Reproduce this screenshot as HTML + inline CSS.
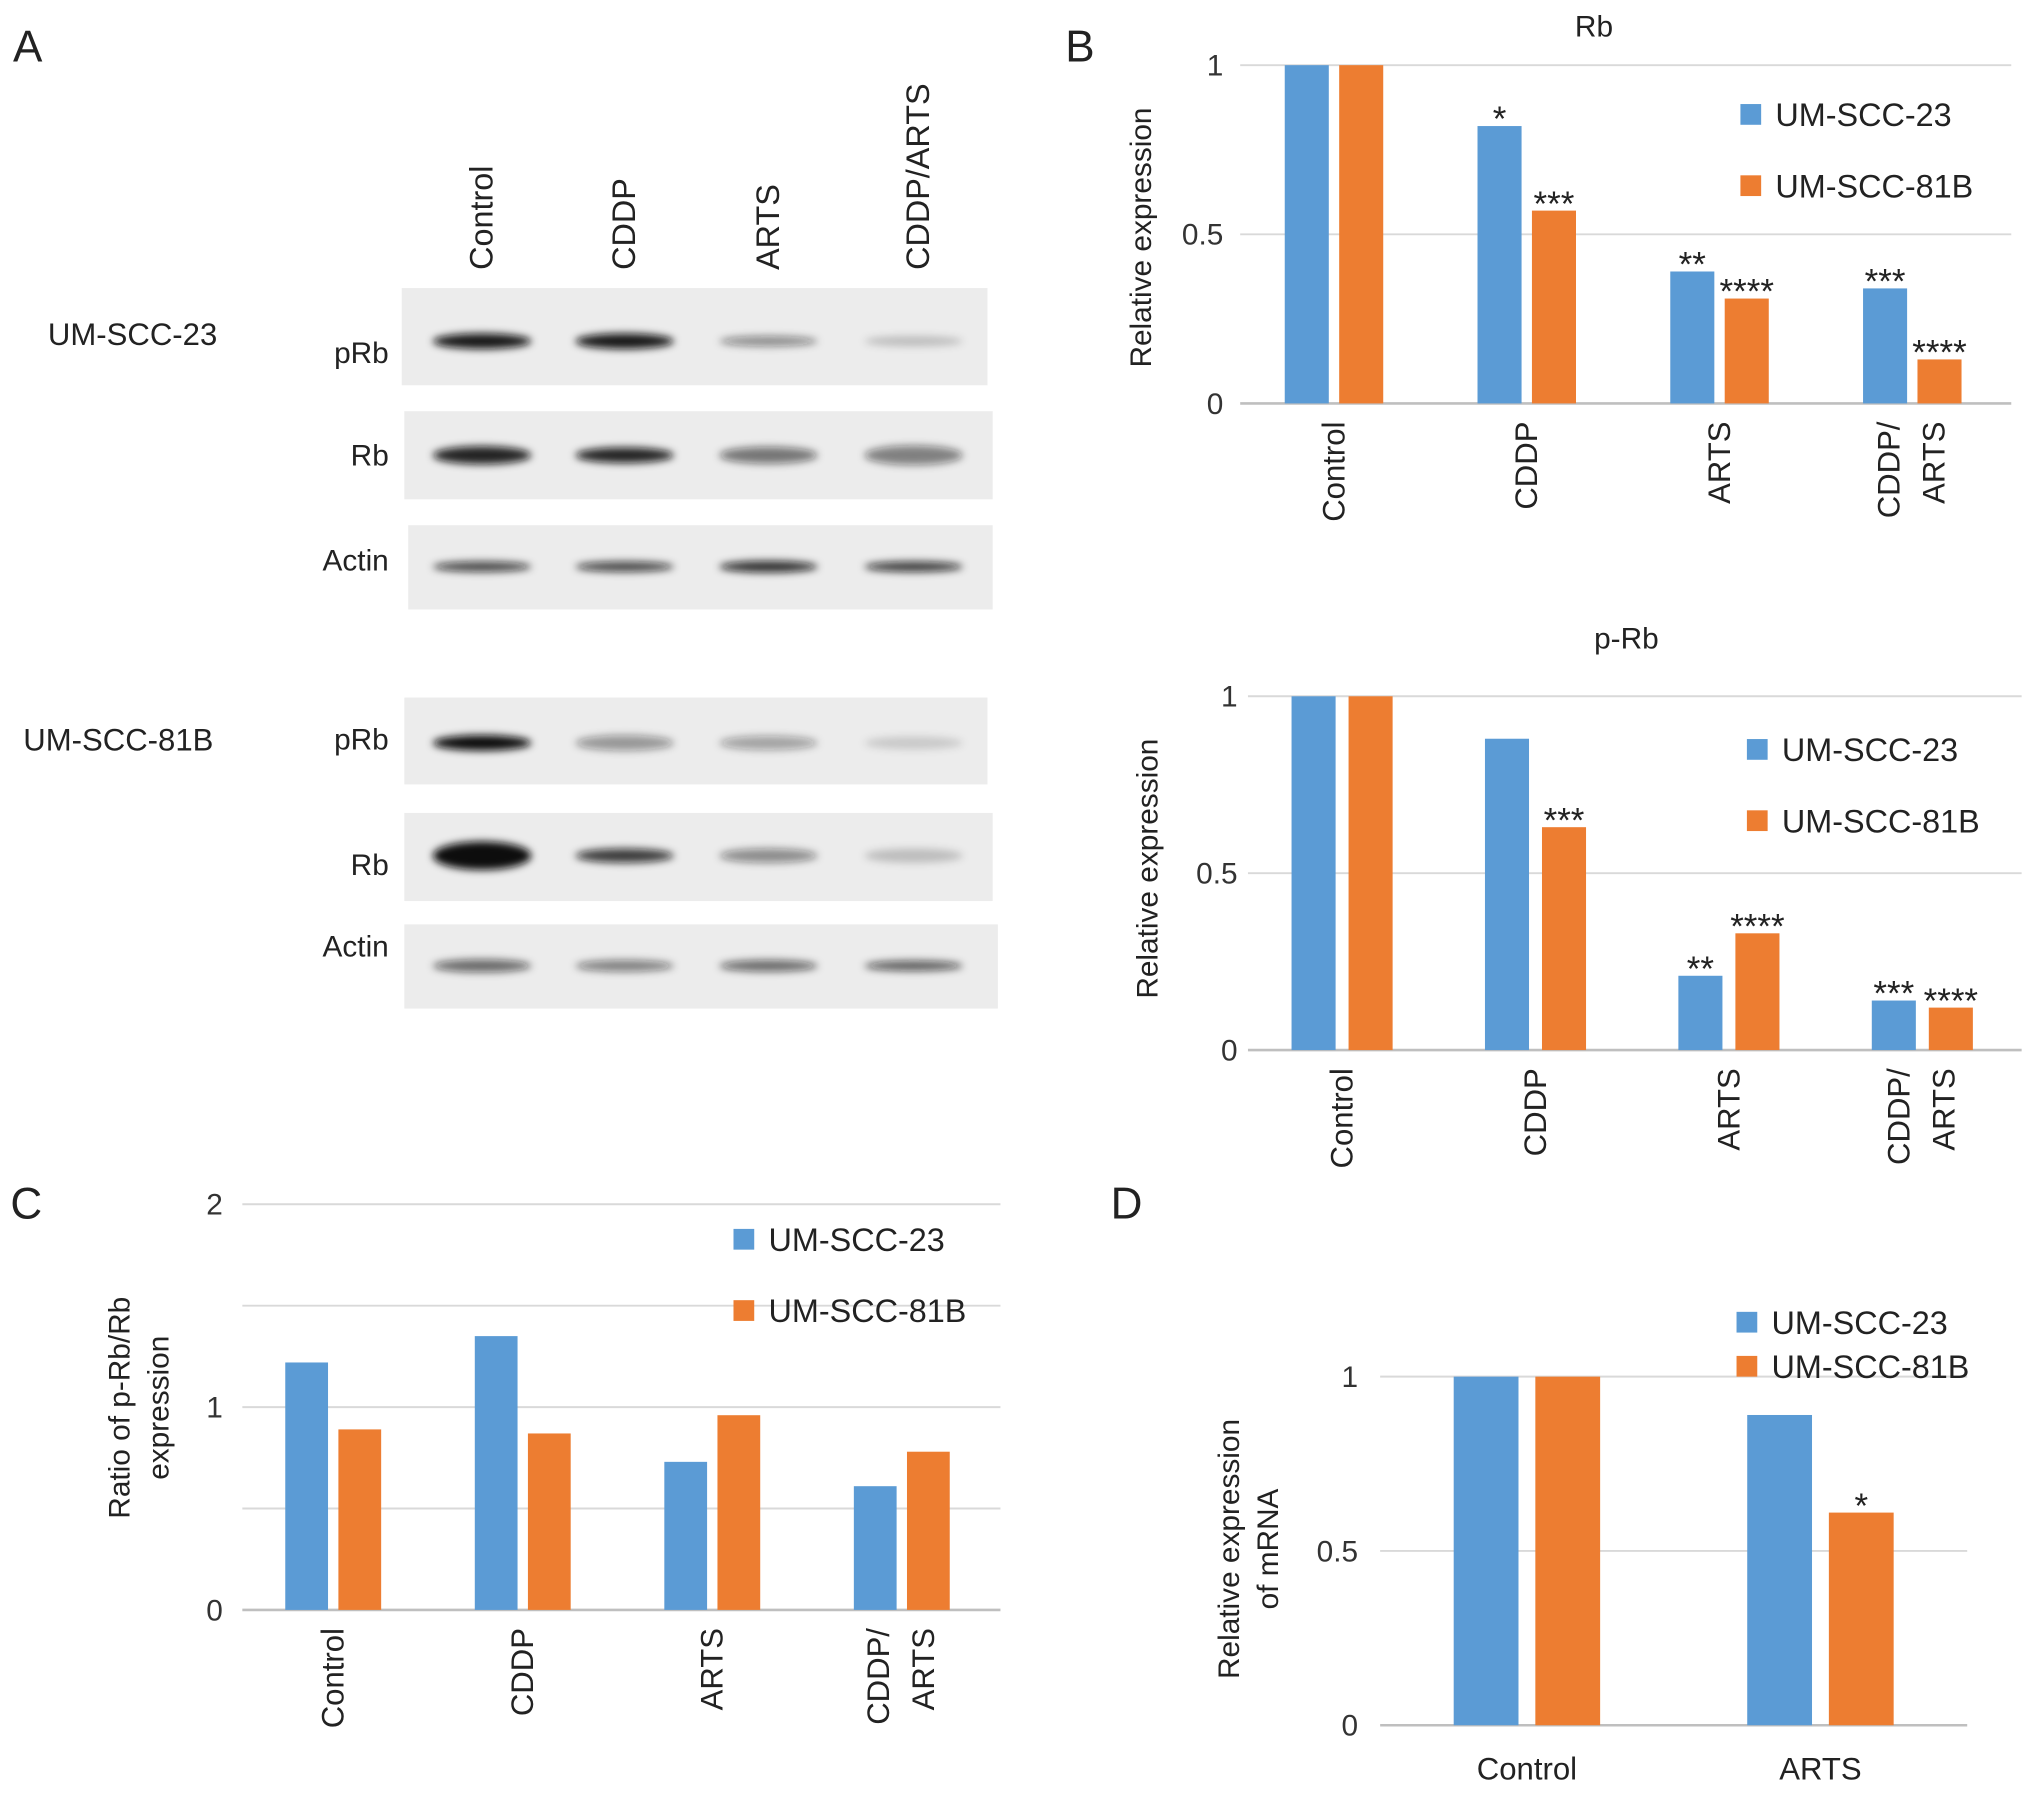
<!DOCTYPE html>
<html><head><meta charset="utf-8"><style>
html,body{margin:0;padding:0;background:#fff}
svg{display:block;font-family:"Liberation Sans",Arial,sans-serif}
</style></head><body>
<svg id="fig" width="2032" height="1793" viewBox="0 0 1568 1383" xmlns="http://www.w3.org/2000/svg">
<defs><filter id="blur" x="-50%" y="-100%" width="200%" height="300%"><feGaussianBlur stdDeviation="3"/></filter></defs>
<g font-size="34" fill="#222">
<text x="10" y="47">A</text>
<text x="822" y="47">B</text>
<text x="8" y="940">C</text>
<text x="857" y="940">D</text>
</g>
<g id="blots"></g>
<g id="rb"></g>
<g id="prb"></g>
<g id="ratio"></g>
<g id="mrna"></g>
</svg>
<script>
const NS="http://www.w3.org/2000/svg";
const BLUE="#5b9bd5",ORANGE="#ed7d31";
// Rb chart
const rbCats=["Control","CDDP","ARTS","CDDP/|ARTS"];
const rbBlue=[1,0.82,0.39,0.34];
const rbOrange=[1,0.57,0.31,0.13];
const rbStarsBlue=["","*","**","***"];
const rbStarsOrange=["","***","****","****"];
const rbTicks=[0,0.5,1];
// p-Rb chart
const prbCats=["Control","CDDP","ARTS","CDDP/|ARTS"];
const prbBlue=[1,0.88,0.21,0.14];
const prbOrange=[1,0.63,0.33,0.12];
const prbStarsBlue=["","","**","***"];
const prbStarsOrange=["","***","****","****"];
const prbTicks=[0,0.5,1];
// ratio chart
const ratioCats=["Control","CDDP","ARTS","CDDP/|ARTS"];
const ratioBlue=[1.22,1.35,0.73,0.61];
const ratioOrange=[0.89,0.87,0.96,0.78];
const ratioTicks=[0,1,2];
const ratioGrid=[0,0.5,1,1.5,2];
// mRNA chart
const mrnaCats=["Control","ARTS"];
const mrnaBlue=[1,0.89];
const mrnaOrange=[1,0.61];
const mrnaStarsBlue=["",""];
const mrnaStarsOrange=["","*"];
const mrnaTicks=[0,0.5,1];
const seriesNames=["UM-SCC-23","UM-SCC-81B"];

function mk(tag,attrs,parent,txt){const e=document.createElementNS(NS,tag);for(const k in attrs)e.setAttribute(k,attrs[k]);if(txt!==undefined)e.textContent=txt;parent.appendChild(e);return e;}

function chart(g,o){
  const y=v=>o.y0-(v-o.vmin)/(o.vmax-o.vmin)*(o.y0-o.y1);
  (o.grid||o.ticks).forEach(t=>{const l=mk("line",{x1:o.x0,x2:o.x1,y1:y(t),y2:y(t),stroke:t===0?"#bfbfbf":"#d9d9d9","stroke-width":t===0?2:1.5},g);
    
    });
  o.ticks.forEach(t=>{const e=mk("text",{x:o.tx,y:y(t)+8,"text-anchor":"end","font-size":23,fill:"#333"},g,String(t));
    
    });
  const step=(o.x1-o.x0)/o.cats.length;
  o.cats.forEach((c,i)=>{
    const cx=o.x0+step*(i+0.5)+o.shift;
    [[o.blue,BLUE,-1,o.sb],[o.orange,ORANGE,1,o.so]].forEach(([arr,col,side,stars])=>{
      const bx=side<0?cx-o.gap/2-o.bw:cx+o.gap/2;
      const r=mk("rect",{x:bx,y:y(arr[i]),width:o.bw,height:o.y0-y(arr[i]),fill:col},g);
      
      
      if(stars&&stars[i]){const s=mk("text",{x:bx+o.bw/2,y:y(arr[i])+4,"text-anchor":"middle","font-size":27,fill:"#222"},g,stars[i]);
        
        }
    });
    const parts=c.split("|");
    if(o.horiz){const t=mk("text",{x:cx,y:o.y0+42,"text-anchor":"middle","font-size":24,fill:"#222"},g,parts.join(""));
      
      }
    else parts.forEach((p,k)=>{const xx=cx+(parts.length>1?(k===0?-18:17):0)+8;
      const t=mk("text",{x:0,y:0,"text-anchor":"end","font-size":24,fill:"#222",transform:`translate(${xx},${o.y0+14}) rotate(-90)`},g,p);
      
      });
  });
  if(o.title){const t=mk("text",{x:o.title[1],y:o.title[2],"text-anchor":"middle","font-size":23,fill:"#222"},g,o.title[0]);
    
    }
  o.ylab.forEach((l,k)=>{const t=mk("text",{x:0,y:0,"text-anchor":"middle","font-size":23,fill:"#222",transform:`translate(${o.ylx+k*30},${o.yly}) rotate(-90)`},g,l);
    
    });
  [BLUE,ORANGE].forEach((col,k)=>{const ly=o.leg[1]+k*o.leg[2];
    const r=mk("rect",{x:o.leg[0],y:ly-8,width:16,height:16,fill:col},g);
    
    
    const t=mk("text",{x:o.leg[0]+27,y:ly+9,"font-size":25,fill:"#222"},g,seriesNames[k]);
    
    });
}
chart(document.getElementById("rb"),{cats:rbCats,blue:rbBlue,orange:rbOrange,sb:rbStarsBlue,so:rbStarsOrange,ticks:rbTicks,vmin:0,vmax:1,
  x0:957,x1:1552,y0:311,y1:50,tx:944,bw:34,gap:8,shift:-2,title:["Rb",1230,28],ylab:["Relative expression"],ylx:888,yly:183,leg:[1343,88,55]});
chart(document.getElementById("prb"),{cats:prbCats,blue:prbBlue,orange:prbOrange,sb:prbStarsBlue,so:prbStarsOrange,ticks:prbTicks,vmin:0,vmax:1,
  x0:963,x1:1560,y0:810,y1:537,tx:955,bw:34,gap:10,shift:-2,title:["p-Rb",1255,500],ylab:["Relative expression"],ylx:893,yly:670,leg:[1348,578,55]});
chart(document.getElementById("ratio"),{cats:ratioCats,blue:ratioBlue,orange:ratioOrange,ticks:ratioTicks,grid:ratioGrid,vmin:0,vmax:2,
  x0:187,x1:772,y0:1242,y1:929,tx:172,bw:33,gap:8,shift:-3,ylab:["Ratio of p-Rb/Rb","expression"],ylx:100,yly:1086,leg:[566,956,55]});
chart(document.getElementById("mrna"),{cats:mrnaCats,blue:mrnaBlue,orange:mrnaOrange,sb:mrnaStarsBlue,so:mrnaStarsOrange,ticks:mrnaTicks,vmin:0,vmax:1,
  x0:1065,x1:1518,y0:1331,y1:1062,tx:1048,bw:50,gap:13,shift:0,horiz:true,ylab:["Relative expression","of mRNA"],ylx:956,yly:1195,leg:[1340,1020,34]});

// Western blot
const laneNames=["Control","CDDP","ARTS","CDDP/ARTS"];
const laneX=[372,482,593,705];
const blotRows=[
 {label:"pRb",y:222,h:75,ly:280,x0:310,x1:762,by:263,ints:[0.95,0.95,0.45,0.2],th:[12,12,8,8]},
 {label:"Rb",y:317,h:68,ly:359,x0:312,x1:766,by:351,ints:[0.9,0.9,0.55,0.5],th:[14,12,13,15]},
 {label:"Actin",y:405,h:65,ly:440,x0:315,x1:766,by:437,ints:[0.75,0.75,0.85,0.8],th:[8,8,9,8]},
 {label:"pRb",y:538,h:67,ly:578,x0:312,x1:762,by:573,ints:[1,0.4,0.35,0.15],th:[12,12,11,10]},
 {label:"Rb",y:627,h:68,ly:675,x0:312,x1:766,by:660,ints:[1,0.8,0.45,0.2],th:[22,11,11,11]},
 {label:"Actin",y:713,h:65,ly:738,x0:312,x1:770,by:745,ints:[0.6,0.5,0.6,0.65],th:[10,9,9,8]}];
const B=document.getElementById("blots");
blotRows.forEach((r,i)=>{
  const bg=mk("rect",{x:r.x0,y:r.y,width:r.x1-r.x0,height:r.h,fill:"#ececec"},B);
  
  
  r.ints.forEach((v,k)=>{const e=mk("ellipse",{cx:laneX[k],cy:r.by,rx:38,ry:r.th[k]/2,fill:"#111","fill-opacity":v,filter:"url(#blur)"},B);
    
    });
  const t=mk("text",{x:300,y:r.ly,"text-anchor":"end","font-size":23,fill:"#222"},B,r.label);
  
  
});
laneNames.forEach((n,k)=>{const t=mk("text",{x:0,y:0,"text-anchor":"start","font-size":25,fill:"#222",transform:`translate(${laneX[k]+8+(k===3?4:0)},208) rotate(-90)`},B,n);
  
  });
[["UM-SCC-23",37,266],["UM-SCC-81B",18,579]].forEach(a=>{const t=mk("text",{x:a[1],y:a[2],"font-size":24,fill:"#222"},B,a[0]);
  
  });
</script>
</body></html>
